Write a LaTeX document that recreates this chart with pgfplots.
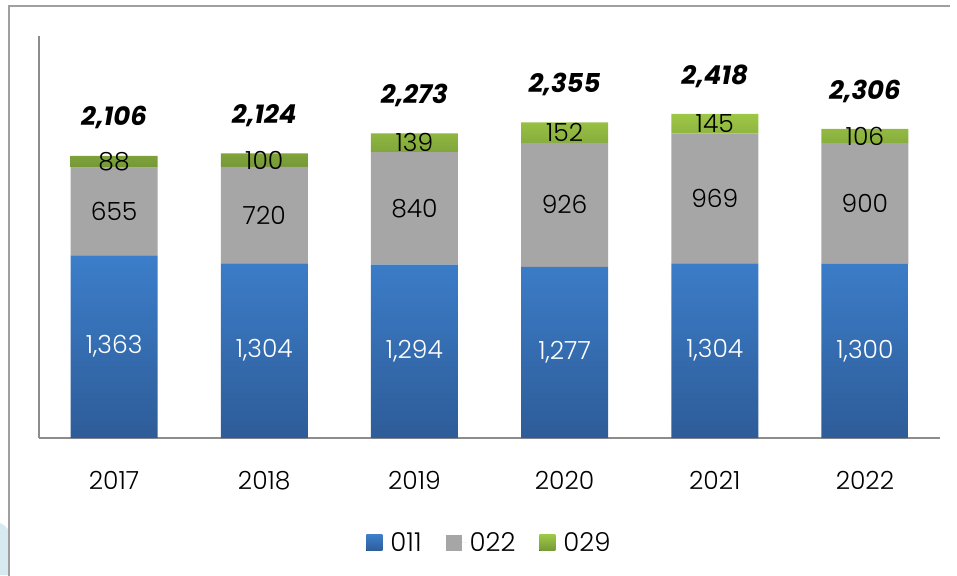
\documentclass[border=0pt]{standalone}
\usepackage{pgfplots}
\pgfplotsset{compat=1.18}
\usepackage{pgfplotstable}
\usepackage{fontspec}
\setmainfont{Poppins}[UprightFont={* Light}, BoldFont={* Bold}, BoldItalicFont={* Bold Italic}, ItalicFont={* Light Italic}]
\definecolor{blueT}{HTML}{3C7ECA}
\definecolor{blueB}{HTML}{2E5C98}
\definecolor{grayF}{HTML}{A6A6A6}
\definecolor{greenT}{HTML}{9DC746}
\definecolor{greenB}{HTML}{759836}
\definecolor{axgray}{HTML}{8C8C8C}
\definecolor{frameg}{HTML}{A0A0A0}
\definecolor{bgblue}{HTML}{D6EAF0}
\pgfplotstableread{
x b g r bmid gmid rmid tot
0 1363 655 88 681.5 1690.5 2062 2106
1 1304 720 100 652 1664 2074 2124
2 1294 840 139 647 1714 2203.5 2273
3 1277 926 152 638.5 1740 2279 2355
4 1304 969 145 652 1788.5 2345.5 2418
5 1300 900 106 650 1750 2253 2306
}\data
\newcommand{\lab}{\fontsize{25}{29}\selectfont}
\newcommand{\leglab}{\fontsize{26}{30}\selectfont}
\newcommand{\tlab}{\fontsize{26}{30}\selectfont\bfseries\itshape}
\begin{document}
\begin{tikzpicture}[x=1pt,y=1pt]
\useasboundingbox (0,0) rectangle (957,575);
\fill[bgblue] (0,0) -- (0,52) .. controls (4,50) .. (8,46) -- (8,0) -- cycle;
\draw[frameg, line width=2pt] (9,-5) -- (9,568.5) -- (950,568.5);
\begin{axis}[
  at={(39pt,137pt)}, anchor=south west,
  scale only axis, width=901pt, height=402pt,
  xmin=-0.5, xmax=5.5, ymin=0, ymax=3000,
  ybar stacked, bar width=87pt,
  axis x line=bottom, axis y line=left,
  axis line style={-, axgray, line width=1.6pt},
  xtick={0,...,5}, xticklabels={2017,2018,2019,2020,2021,2022},
  xtick style={draw=none}, ytick=\empty,
  xticklabel style={font=\lab, yshift=-28pt},
  legend style={at={(0.5,-0.261)}, anchor=center, draw=none, fill=none,
    legend columns=3, font=\leglab,
    /tikz/every even column/.append style={column sep=22pt}},
  legend image code/.code={\fill[#1] (0pt,-8pt) rectangle (16pt,8pt); \path (0pt,0pt) -- (22pt,0pt);},
]
\addplot[draw=none, top color=blueT, bottom color=blueB] table[x=x,y=b] {\data};
\addplot[draw=none, fill=grayF] table[x=x,y=g] {\data};
\addplot[draw=none, top color=greenT, bottom color=greenB] table[x=x,y=r] {\data};
\legend{011,022,029}
\end{axis}
\begin{axis}[
  at={(39pt,137pt)}, anchor=south west,
  scale only axis, width=901pt, height=402pt,
  xmin=-0.5, xmax=5.5, ymin=0, ymax=3000,
  axis lines=none, clip=false,
  /pgf/number format/.cd, 1000 sep={,}, assume math mode=true,
]
\addplot[only marks, mark=none, point meta=explicit, nodes near coords,
  every node near coord/.append style={anchor=center, font=\lab, text=white}]
  table[x=x,y=bmid,meta=b] {\data};
\addplot[only marks, mark=none, point meta=explicit, nodes near coords,
  every node near coord/.append style={anchor=center, font=\lab, text=black}]
  table[x=x,y=gmid,meta=g] {\data};
\addplot[only marks, mark=none, point meta=explicit, nodes near coords,
  every node near coord/.append style={anchor=center, font=\lab, text=black}]
  table[x=x,y=rmid,meta=r] {\data};
\addplot[only marks, mark=none, point meta=explicit, nodes near coords,
  every node near coord/.append style={anchor=center, yshift=38pt, font=\tlab, text=black}]
  table[x=x,y=tot,meta=tot] {\data};
\end{axis}
\end{tikzpicture}
\end{document}
